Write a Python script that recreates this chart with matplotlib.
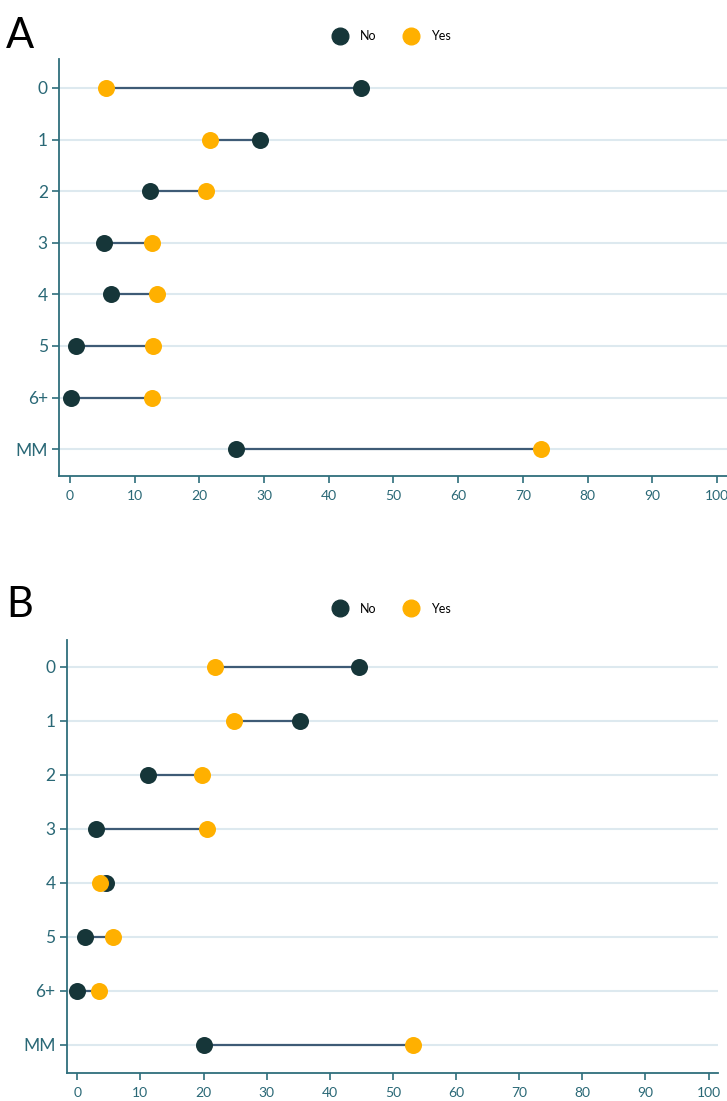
import numpy as np
import matplotlib
matplotlib.use("Agg")
import matplotlib.pyplot as plt
from matplotlib.lines import Line2D

plt.rcParams['font.family'] = ['Lato', 'DejaVu Sans']

categories = ['0', '1', '2', '3', '4', '5', '6+', 'MM']

# panel A
a_no = [45.0, 29.3, 12.3, 5.3, 6.4, 0.9, 0.2, 25.6]
a_yes = [5.6, 21.6, 21.0, 12.7, 13.4, 12.9, 12.7, 72.8]
# panel B
b_no = [44.6, 35.3, 11.2, 2.9, 4.5, 1.2, 0.0, 20.0]
b_yes = [21.8, 24.8, 19.7, 20.5, 3.6, 5.7, 3.4, 53.2]

xticks = list(range(0, 101, 10))

NO_COL = '#163639'
YES_COL = '#ffb000'
LINE_COL = '#3e5b76'
AXIS_COL = '#2f6e7c'
GRID_COL = '#dde9ef'
TEXT_COL = '#2a6876'

fig = plt.figure(figsize=(7.27, 11.01), dpi=100)

panels = [
    ('A', a_no, a_yes, [0.0812, 0.5677, 0.92, 0.3787], (-1.7, 101.7), (7.52, -0.56), 0.985, 0.967),
    ('B', b_no, b_yes, [0.0917, 0.0257, 0.896, 0.393], (-1.68, 101.5), (7.52, -0.5), 0.468, 0.447),
]

for letter, no, yes, rect, xlim, ylim, ly, legy in panels:
    ax = fig.add_axes(rect)
    y = np.arange(len(categories))
    for yy in y:
        ax.axhline(yy, color=GRID_COL, lw=1.5, zorder=0)
    ax.hlines(y, no, yes, color=LINE_COL, lw=1.6, zorder=1)
    ax.scatter(no, y, s=150, color=NO_COL, zorder=2, linewidths=0)
    ax.scatter(yes, y, s=150, color=YES_COL, zorder=3, linewidths=0)

    ax.set_xlim(*xlim)
    ax.set_ylim(*ylim)
    ax.set_yticks(y)
    ax.set_yticklabels(categories)
    ax.set_xticks(xticks)
    ax.tick_params(axis='y', colors=AXIS_COL, labelcolor=TEXT_COL, labelsize=12.5, length=5, width=1.2, pad=3)
    ax.tick_params(axis='x', colors=AXIS_COL, labelcolor=TEXT_COL, labelsize=10, length=5, width=1.2, pad=5)
    for side in ['top', 'right']:
        ax.spines[side].set_visible(False)
    for side in ['left', 'bottom']:
        ax.spines[side].set_color(AXIS_COL)
        ax.spines[side].set_linewidth(1.3)

    fig.text(0.008, ly, letter, fontsize=30, va='top', ha='left', color='black')

    handles = [
        Line2D([], [], marker='o', ls='', color=NO_COL, markersize=12, label='No'),
        Line2D([], [], marker='o', ls='', color=YES_COL, markersize=12, label='Yes'),
    ]
    fig.legend(handles=handles, loc='center', bbox_to_anchor=(0.535, legy), ncol=2,
               frameon=False, fontsize=9, handletextpad=0.6, columnspacing=1.8)

fig.savefig('out.png', dpi=100, facecolor='white')
